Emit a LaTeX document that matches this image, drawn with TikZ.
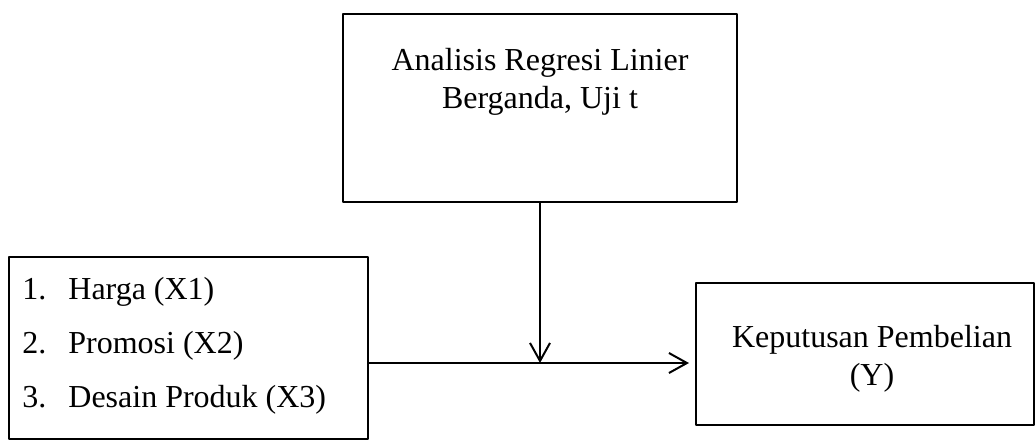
\documentclass[tikz,border=0pt]{standalone}
\usepackage{fontspec}
\setmainfont{Liberation Serif}
\usetikzlibrary{arrows.meta}

\tikzset{
  box/.style={draw, line width=1pt, inner sep=0pt},
  lbl/.style={inner sep=0pt, anchor=base, font=\fontsize{16}{19}\selectfont},
  link/.style={line width=1pt, -{Straight Barb[length=9pt, width=10pt, line width=1pt]}}
}

\begin{document}
\begin{tikzpicture}[x=0.5pt, y=-0.5pt, line join=round]
  \useasboundingbox (0,0) rectangle (1036,440);

  % ==========================================
  % Kotak-kotak
  % ==========================================
  \node[box, minimum width=197pt, minimum height=94pt] (uji) at (540,108) {};
  \node[box, minimum width=179.5pt, minimum height=91pt] (var) at (188.5,348) {};
  \node[box, minimum width=169pt, minimum height=71pt] (kep) at (865,354) {};

  % Teks kotak atas
  \node[lbl] (ujiA) at (540,70) {Analisis Regresi Linier};
  \node[lbl] (ujiB) at (540,108) {Berganda, Uji t};

  % Daftar variabel X
  \foreach \i/\t/\y in {1/Harga (X1)/299, 2/Promosi (X2)/353, 3/Desain Produk (X3)/407} {
    \node[lbl, anchor=base west] (no\i) at (22,\y) {\i.};
    \node[lbl, anchor=base west] (x\i) at (68,\y) {\t};
  }

  % Teks kotak kanan
  \node[lbl] (kepA) at (872,347) {Keputusan Pembelian};
  \node[lbl] (kepB) at (872,385) {(Y)};

  % ==========================================
  % Panah
  % ==========================================
  \coordinate (j) at (540,363);
  \draw[link] (var.east |- j) -- ([xshift=-3pt]kep.west |- j);
  \draw[link] (uji.south -| j) -- (j);
\end{tikzpicture}
\end{document}
